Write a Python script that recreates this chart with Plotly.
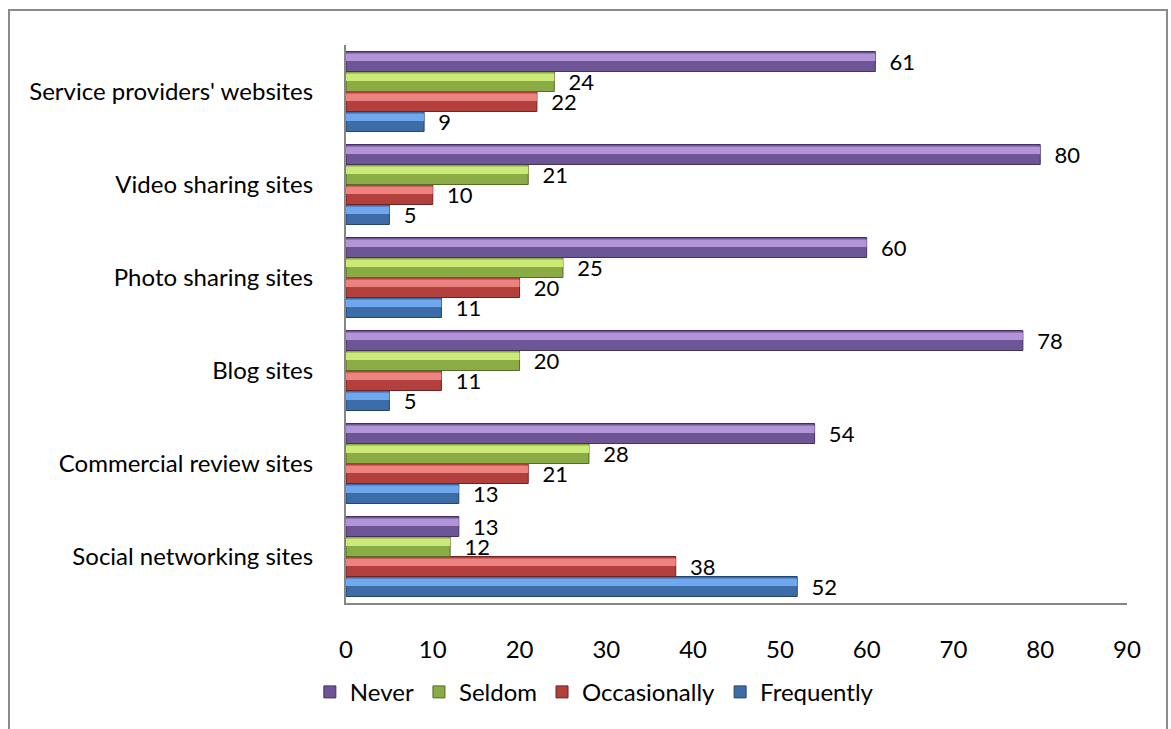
import plotly.graph_objects as go

categories = [
    "Social networking sites",
    "Commercial review sites",
    "Blog sites",
    "Photo sharing sites",
    "Video sharing sites",
    "Service providers' websites",
]
frequently = [52, 13, 5, 11, 5, 9]
occasionally = [38, 21, 11, 20, 10, 22]
seldom = [12, 28, 20, 25, 21, 24]
never = [13, 54, 78, 60, 80, 61]

# name, values, body colour, highlight colour, edge colour
series = [
    ("Frequently", frequently, "#3C6DA9", "#6FA8EC", "#24446C"),
    ("Occasionally", occasionally, "#B3403D", "#EC8380", "#6E2422"),
    ("Seldom", seldom, "#8BAB44", "#CBEA78", "#556B26"),
    ("Never", never, "#6E5596", "#B294D8", "#43335E"),
]

FONT = "Lato"
GROUP = 0.86
BAR = GROUP / len(series)

fig = go.Figure()
for i, (name, vals, body, light, edge) in enumerate(series):
    off = -GROUP / 2 + i * BAR
    fig.add_trace(go.Bar(
        y=categories, x=vals, name=name, orientation="h",
        width=BAR, offset=off,
        marker=dict(color=body, line=dict(color=edge, width=1)),
        text=["\u00a0\u00a0" + str(v) for v in vals],
        textposition="outside", cliponaxis=False, constraintext="none",
        textfont=dict(family=FONT, size=22, color="#000"),
    ))
    # lighter upper strip giving the bevelled look
    fig.add_trace(go.Bar(
        y=categories, x=vals, orientation="h",
        width=BAR * 0.38, offset=off + BAR * 0.52,
        marker=dict(color=light, line=dict(width=0)),
        showlegend=False, hoverinfo="skip",
    ))

fig.update_layout(
    width=1171, height=729,
    margin=dict(l=346, r=44, t=45, b=126),
    paper_bgcolor="white", plot_bgcolor="white",
    barmode="overlay",
    font=dict(family=FONT, size=24, color="#000"),
    showlegend=True,
    legend=dict(orientation="h", traceorder="reversed",
                x=0.318, xanchor="center", y=-0.16, yanchor="middle",
                font=dict(family=FONT, size=24), itemwidth=30),
    xaxis=dict(range=[0, 90], dtick=10, showgrid=False, zeroline=False,
               showline=True, linecolor="#868686", linewidth=2,
               ticks="", ticklabelstandoff=24,
               tickfont=dict(family=FONT, size=24)),
    yaxis=dict(showgrid=False, showline=True, linecolor="#868686",
               linewidth=2, ticks="", ticklabelstandoff=26,
               tickfont=dict(family=FONT, size=24)),
    shapes=[dict(type="rect", xref="paper", yref="paper",
                 x0=-0.4315, x1=1.0512, y0=-0.4, y1=1.0627,
                 line=dict(color="#8C8C8C", width=2), layer="below")],
)

fig.write_html("out.html")
